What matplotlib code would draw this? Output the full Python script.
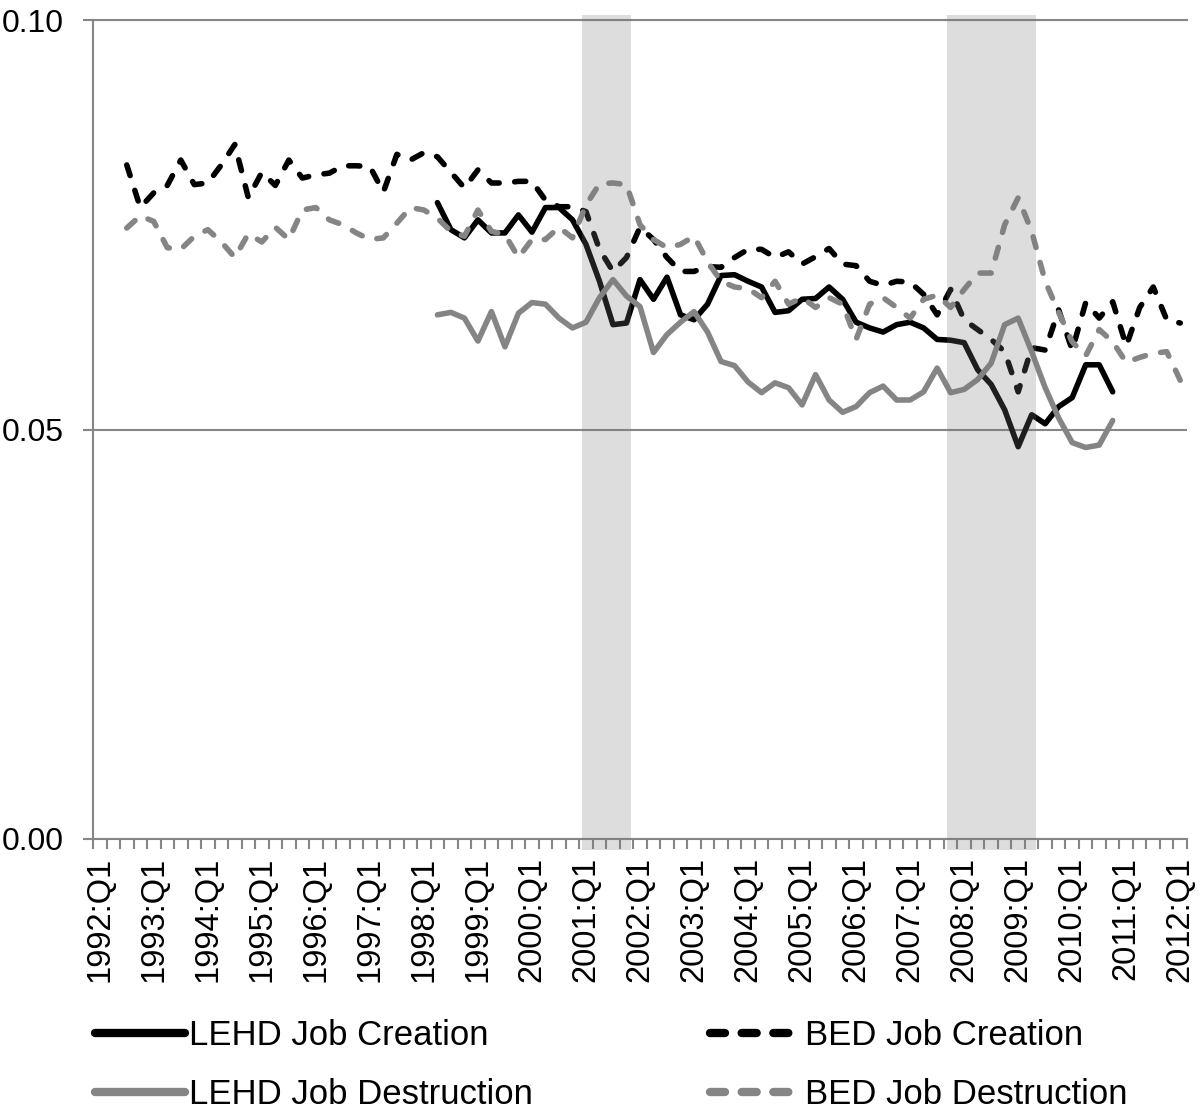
import numpy as np
import matplotlib
matplotlib.use("Agg")
import matplotlib.pyplot as plt
from matplotlib.lines import Line2D

plt.rcParams['font.family'] = ['Liberation Sans', 'DejaVu Sans']

# quarterly categories 1992:Q1 .. 2012:Q1
quarters = [f"{y}:Q{q}" for y in range(1992, 2013) for q in range(1, 5)][:81]

# BED series start 1992:Q3, LEHD series start 1998:Q2
bed_start = "1992:Q3"
lehd_start = "1998:Q2"

bed_creation = [
    .0823, .0771, .0789, .0798, .0829, .0799, .0801, .0823, .0848, .0783,
    .0814, .0798, .0829, .0807, .0811, .0813, .0822, .0822, .0821, .0790,
    .0836, .0829, .0838, .0833, .0814, .0795, .0817, .0801, .0801, .0803,
    .0803, .0780, .0772, .0772, .0766, .0720, .0693, .0710, .0747, .0732,
    .0710, .0693, .0693, .0699, .0698, .0710, .0720, .0720, .0710, .0717,
    .0702, .0711, .0721, .0702, .0700, .0681, .0676, .0681, .0680, .0665,
    .0640, .0671, .0634, .0622, .0610, .0595, .0546, .0600, .0597, .0646,
    .0597, .0655, .0636, .0656, .0602, .0649, .0674, .0634, .0630]

bed_destruction = [
    .0746, .0761, .0754, .0722, .0720, .0736, .0744, .0729, .0710, .0739,
    .0729, .0747, .0732, .0768, .0771, .0756, .0750, .0740, .0732, .0734,
    .0752, .0771, .0768, .0758, .0742, .0736, .0768, .0742, .0738, .0710,
    .0732, .0732, .0747, .0734, .0774, .0800, .0801, .0799, .0750, .0732,
    .0722, .0726, .0736, .0705, .0681, .0674, .0672, .0661, .0681, .0653,
    .0661, .0649, .0661, .0653, .0610, .0653, .0661, .0649, .0636, .0659,
    .0664, .0649, .0671, .0691, .0691, .0750, .0783, .0742, .0681, .0643,
    .0607, .0590, .0622, .0607, .0582, .0588, .0593, .0595, .0560]

lehd_creation = [
    .0777, .0744, .0734, .0756, .0740, .0740, .0762, .0741, .0771, .0771,
    .0756, .0726, .0681, .0628, .0630, .0683, .0659, .0686, .0640, .0634,
    .0653, .0688, .0689, .0681, .0674, .0643, .0645, .0659, .0660, .0674,
    .0659, .0631, .0624, .0619, .0628, .0631, .0624, .0610, .0609, .0606,
    .0573, .0555, .0524, .0479, .0518, .0507, .0528, .0539, .0579, .0579, .0546]

lehd_destruction = [
    .0640, .0643, .0636, .0608, .0644, .0601, .0642, .0655, .0653, .0636,
    .0624, .0631, .0661, .0683, .0663, .0650, .0594, .0616, .0631, .0644,
    .0619, .0583, .0578, .0558, .0545, .0557, .0551, .0530, .0567, .0536,
    .0521, .0528, .0545, .0553, .0536, .0536, .0546, .0575, .0545, .0549,
    .0561, .0581, .0628, .0636, .0595, .0551, .0514, .0484, .0478, .0481, .0511]

# recession periods (first and last quarter)
recessions = [("2001:Q1", "2001:Q4"), ("2007:Q4", "2009:Q2")]

black = "#000000"
gray = "#858585"
axis_gray = "#868686"

fig = plt.figure(figsize=(12, 11.13), dpi=100)
ax = fig.add_axes([93 / 1200, 1 - 839 / 1113, 1094 / 1200, 819 / 1113])

def xs(start, vals):
    i0 = quarters.index(start)
    return np.arange(i0, i0 + len(vals))

lw = 4
dash = (2.0, 2.8)
ax.plot(xs(lehd_start, lehd_creation), lehd_creation, color=black, lw=lw,
        solid_capstyle="round", solid_joinstyle="round")
l2, = ax.plot(xs(bed_start, bed_creation), bed_creation, color=black, lw=lw,
              dash_capstyle="round", dash_joinstyle="round")
l2.set_dashes(dash)
ax.plot(xs(lehd_start, lehd_destruction), lehd_destruction, color=gray, lw=lw,
        solid_capstyle="round", solid_joinstyle="round")
l4, = ax.plot(xs(bed_start, bed_destruction), bed_destruction, color=gray, lw=lw,
              dash_capstyle="round", dash_joinstyle="round")
l4.set_dashes(dash)

# recession shading drawn over the lines, semi-transparent
for a, b in recessions:
    ax.axvspan(quarters.index(a) - 0.3, quarters.index(b) + 0.3,
               ymin=-0.013, ymax=1.006, color="#787878", alpha=0.25,
               lw=0, zorder=5, clip_on=False)

ax.set_xlim(-0.5, len(quarters) - 0.5)
ax.set_ylim(0, 0.10)

ax.spines["right"].set_visible(False)
for side in ["left", "bottom", "top"]:
    ax.spines[side].set_color(axis_gray)
    ax.spines[side].set_linewidth(1.5)

ax.set_yticks([0.0, 0.05, 0.10])
ax.set_yticklabels(["0.00", "0.05", "0.10"])
ax.yaxis.grid(True, color=axis_gray, lw=1.5)
ax.tick_params(axis="y", direction="out", length=7.2, width=1.5,
               color=axis_gray, labelsize=23, pad=14)

ax.set_xticks(np.arange(0, len(quarters), 4))
ax.set_xticklabels(quarters[::4], rotation=90)
ax.set_xticks(np.arange(-0.5, len(quarters), 1), minor=True)
ax.tick_params(axis="x", which="major", length=0, labelsize=23.5, pad=13)
ax.tick_params(axis="x", which="minor", direction="out", length=7.5, width=1.5,
               color=axis_gray)

handles = [
    Line2D([], [], color=black, lw=6, solid_capstyle="round"),
    Line2D([], [], color=gray, lw=6, solid_capstyle="round"),
    Line2D([], [], color=black, lw=6, dashes=(1.8, 2.0), dash_capstyle="round"),
    Line2D([], [], color=gray, lw=6, dashes=(1.8, 2.0), dash_capstyle="round"),
]
labels = ["LEHD Job Creation", "LEHD Job Destruction",
          "BED Job Creation", "BED Job Destruction"]
fig.legend(handles, labels, ncol=2, loc="upper left",
           bbox_to_anchor=(95 / 1200, 1 - 1019 / 1113), frameon=False,
           fontsize=25, handlelength=2.6, handletextpad=0.12,
           columnspacing=5.1, labelspacing=0.75, borderpad=0, borderaxespad=0)

fig.savefig("out.png", dpi=100)
